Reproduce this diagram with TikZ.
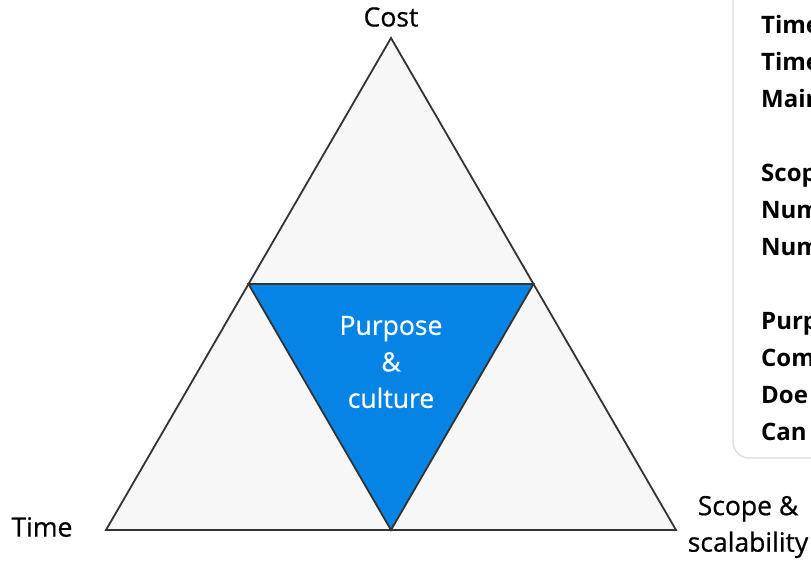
\documentclass[tikz,border=0pt]{standalone}
\usepackage{fontspec}
\setmainfont{Open Sans}
\newfontfamily\mediumfont{Open Sans}[FakeBold=0.6]
\usetikzlibrary{positioning}
\definecolor{edgegray}{HTML}{333333}
\definecolor{facegray}{HTML}{F7F7F7}
\definecolor{purposeblue}{HTML}{0584E6}
\definecolor{boxgray}{HTML}{DCDCDC}
\tikzstyle{side} = [draw=edgegray, line width=1.8pt, fill=facegray]
\tikzstyle{corner} = [font=\fontsize{26.5}{36.5}\selectfont\mediumfont, align=center, inner sep=0pt]
\tikzstyle{note} = [font=\fontsize{24}{37}\selectfont\bfseries, align=left, anchor=west, inner sep=0pt]

\begin{document}
\begin{tikzpicture}[x=1pt, y=-1pt]
\clip (0,0) rectangle (811,561);
\fill[white] (0,0) rectangle (811,561);

\coordinate (apex) at (391,38);
\coordinate (base left) at (106,530);
\coordinate (base right) at (676,530);
\coordinate (mid left) at (248.5,284);
\coordinate (mid right) at (533.5,284);
\coordinate (mid base) at (391,530);

\draw[side] (apex) -- (base left) -- (base right) -- cycle;
\draw[side, fill=purposeblue] (mid left) -- (mid right) -- (mid base) -- cycle;

\draw[boxgray, line width=1.2pt, rounded corners=16pt] (733,-40) rectangle (860,458);

\node (cost) [corner] at (391,17) {Cost};
\node (time) [corner] at (42,527) {Time};
\node (scope) [corner] at (748,527) {Scope \&\\scalability};
\node (purpose) [corner, text=white] at (391,362) {Purpose\\\&\\culture};

\node (notes) [note] at (761,228) {
    Time\\
    Time\\
    Main\\[37pt]
    Scop\\
    Num\\
    Num\\[37pt]
    Purp\\
    Com\\
    Doe\\
    Can
};
\end{tikzpicture}
\end{document}
